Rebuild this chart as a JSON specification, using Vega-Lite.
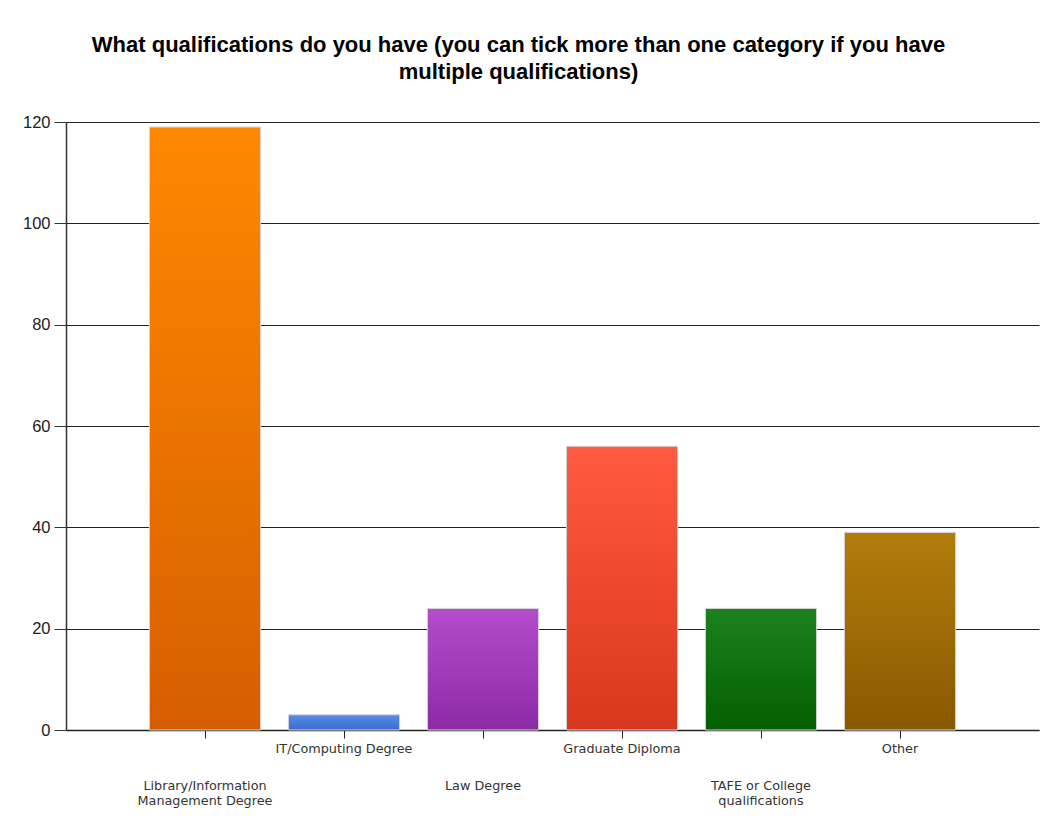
{
  "$schema": "https://vega.github.io/schema/vega-lite/v6.json",
  "autosize": "none",
  "width": 973,
  "height": 608,
  "padding": {"left": 66, "top": 122, "right": 14, "bottom": 91},
  "background": "white",
  "title": {
    "text": ["What qualifications do you have (you can tick more than one category if you have", "multiple qualifications)"],
    "font": "Liberation Sans",
    "fontSize": 22,
    "fontWeight": "bold",
    "color": "black",
    "lineHeight": 27,
    "anchor": "middle",
    "frame": "group",
    "dx": -34,
    "offset": 30
  },
  "data": {
    "values": [
      {"qualification": "Library/Information Management Degree", "count": 119},
      {"qualification": "IT/Computing Degree", "count": 3},
      {"qualification": "Law Degree", "count": 24},
      {"qualification": "Graduate Diploma", "count": 56},
      {"qualification": "TAFE or College qualifications", "count": 24},
      {"qualification": "Other", "count": 39}
    ]
  },
  "mark": {"type": "bar", "stroke": "#d6d6d6", "strokeWidth": 1},
  "encoding": {
    "x": {
      "field": "qualification",
      "type": "nominal",
      "sort": null,
      "scale": {"paddingInner": 0.2, "paddingOuter": 0.6},
      "axis": {
        "title": null,
        "labelAngle": 0,
        "labelFont": "DejaVu Sans",
        "labelFontSize": 12.8,
        "labelColor": "#333333",
        "labelLineHeight": 15,
        "labelBaseline": "top",
        "labelExpr": "datum.value == 'Library/Information Management Degree' ? ['Library/Information', 'Management Degree'] : datum.value == 'TAFE or College qualifications' ? ['TAFE or College', 'qualifications'] : datum.value",
        "labelPadding": {"condition": {"test": "indexof(['Library/Information Management Degree', 'Law Degree', 'TAFE or College qualifications'], datum.value) >= 0", "value": 41}, "value": 4},
        "labelLimit": 300,
        "tickSize": 8,
        "tickColor": "#222222",
        "domainColor": "#222222",
        "domainWidth": 1.5,
        "grid": false
      }
    },
    "y": {
      "field": "count",
      "type": "quantitative",
      "scale": {"domain": [0, 120], "nice": false},
      "axis": {
        "title": null,
        "values": [0, 20, 40, 60, 80, 100, 120],
        "labelFont": "Liberation Sans",
        "labelFontSize": 16.5,
        "labelColor": "#222222",
        "labelPadding": 4,
        "tickSize": 12,
        "tickColor": "#333333",
        "domainColor": "#333333",
        "domainWidth": 1.5,
        "grid": true,
        "gridColor": "#222222",
        "gridWidth": 1,
        "gridOpacity": 1
      }
    },
    "color": {
      "condition": [
        {"test": "datum.qualification == 'Library/Information Management Degree'", "value": {"gradient": "linear", "x1": 0, "y1": 0, "x2": 0, "y2": 1, "stops": [{"offset": 0, "color": "#FF8800"}, {"offset": 1, "color": "#D75E00"}]}},
        {"test": "datum.qualification == 'IT/Computing Degree'", "value": {"gradient": "linear", "x1": 0, "y1": 0, "x2": 0, "y2": 1, "stops": [{"offset": 0, "color": "#5A8CE6"}, {"offset": 1, "color": "#3A6CD0"}]}},
        {"test": "datum.qualification == 'Law Degree'", "value": {"gradient": "linear", "x1": 0, "y1": 0, "x2": 0, "y2": 1, "stops": [{"offset": 0, "color": "#B54CCC"}, {"offset": 1, "color": "#8C2AA6"}]}},
        {"test": "datum.qualification == 'Graduate Diploma'", "value": {"gradient": "linear", "x1": 0, "y1": 0, "x2": 0, "y2": 1, "stops": [{"offset": 0, "color": "#FF5A42"}, {"offset": 1, "color": "#D9361E"}]}},
        {"test": "datum.qualification == 'TAFE or College qualifications'", "value": {"gradient": "linear", "x1": 0, "y1": 0, "x2": 0, "y2": 1, "stops": [{"offset": 0, "color": "#1C821C"}, {"offset": 1, "color": "#035F03"}]}}
      ],
      "value": {"gradient": "linear", "x1": 0, "y1": 0, "x2": 0, "y2": 1, "stops": [{"offset": 0, "color": "#B27D0C"}, {"offset": 1, "color": "#895800"}]}
    }
  },
  "config": {
    "view": {"stroke": null}
  }
}
